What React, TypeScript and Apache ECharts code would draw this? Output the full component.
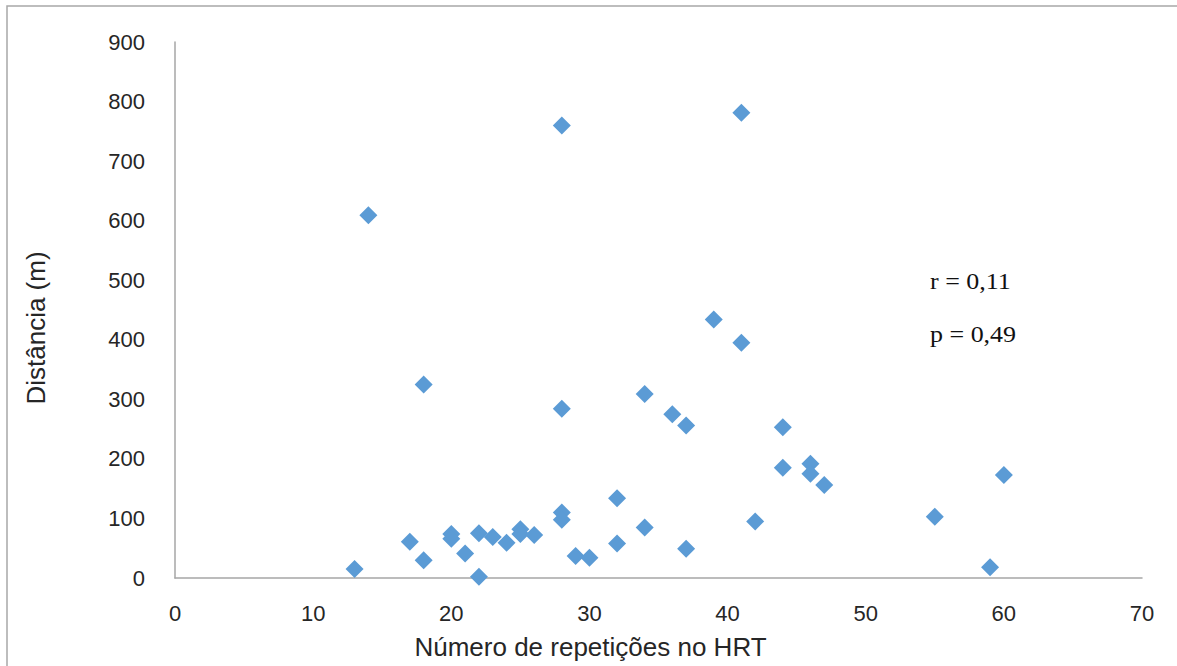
import React, { useEffect, useRef } from "react";
import * as echarts from "echarts";

const repetitions = [13, 14, 17, 18, 18, 20, 20, 21, 22, 22, 23, 24, 25, 25, 26, 28, 28, 28, 28, 29, 30, 32, 32, 34, 34, 36, 37, 37, 39, 41, 41, 42, 44, 44, 46, 46, 47, 55, 59, 60];
const distances = [15, 609, 61, 325, 30, 74, 66, 41, 2, 75, 69, 59, 82, 74, 72, 760, 284, 110, 98, 37, 34, 134, 58, 309, 85, 275, 256, 49, 434, 781, 395, 95, 253, 185, 192, 175, 156, 103, 18, 173];
const xTitle = "Número de repetições no HRT";
const yTitle = "Distância (m)";
const statLines = ["r = 0,11", "p = 0,49"];

export default function App() {
  const ref = useRef<HTMLDivElement>(null);
  useEffect(() => {
    if (!ref.current) return;
    const chart = echarts.init(ref.current, null, { renderer: "svg" });
    const points = repetitions.map((x, i) => [x, distances[i]]);
    const axisFont = { fontFamily: "Liberation Sans, Arial, sans-serif", fontSize: 22, color: "#262626" };
    chart.setOption({
      animation: false,
      backgroundColor: "#fff",
      grid: { left: 175, right: 35, top: 42, bottom: 88, outerBoundsMode: "none" },
      xAxis: {
        type: "value",
        min: 0,
        max: 70,
        interval: 10,
        name: xTitle,
        nameLocation: "middle",
        nameGap: 56,
        nameTextStyle: { fontFamily: "Liberation Sans, Arial, sans-serif", fontSize: 26, color: "#262626", padding: [0, 136, 0, 0] },
        axisLine: { show: true, lineStyle: { color: "#a6a6a6", width: 1.5 } },
        axisTick: { show: false },
        splitLine: { show: false },
        axisLabel: { ...axisFont, margin: 24 },
      },
      yAxis: {
        type: "value",
        min: 0,
        max: 900,
        interval: 100,
        name: yTitle,
        nameLocation: "middle",
        nameGap: 126,
        nameRotate: 90,
        nameTextStyle: { fontFamily: "Liberation Sans, Arial, sans-serif", fontSize: 26, color: "#262626", padding: [0, 36, 0, 0] },
        axisLine: { show: true, lineStyle: { color: "#a6a6a6", width: 1.5 } },
        axisTick: { show: false },
        splitLine: { show: false },
        axisLabel: { ...axisFont, margin: 30 },
      },
      series: [
        {
          type: "scatter",
          data: points,
          symbol: "diamond",
          symbolSize: [18, 18],
          itemStyle: { color: "#5B9BD5", opacity: 1 },
        },
      ],
      graphic: [
        {
          type: "rect",
          shape: { x: 7, y: 6, width: 1300, height: 800 },
          style: { fill: "none", stroke: "#a8a8a8", lineWidth: 1.5 },
          silent: true,
        },
        {
          type: "text",
          x: 930,
          y: 270,
          scaleX: 1.13,
          style: { text: statLines[0], font: "23px 'Liberation Serif', 'Times New Roman', serif", fill: "#111" },
        },
        {
          type: "text",
          x: 930,
          y: 323,
          scaleX: 1.13,
          style: { text: statLines[1], font: "23px 'Liberation Serif', 'Times New Roman', serif", fill: "#111" },
        },
      ],
    });
    return () => chart.dispose();
  }, []);
  return <div ref={ref} style={{ position: "fixed", left: 0, top: 0, width: 1177, height: 666 }} />;
}
